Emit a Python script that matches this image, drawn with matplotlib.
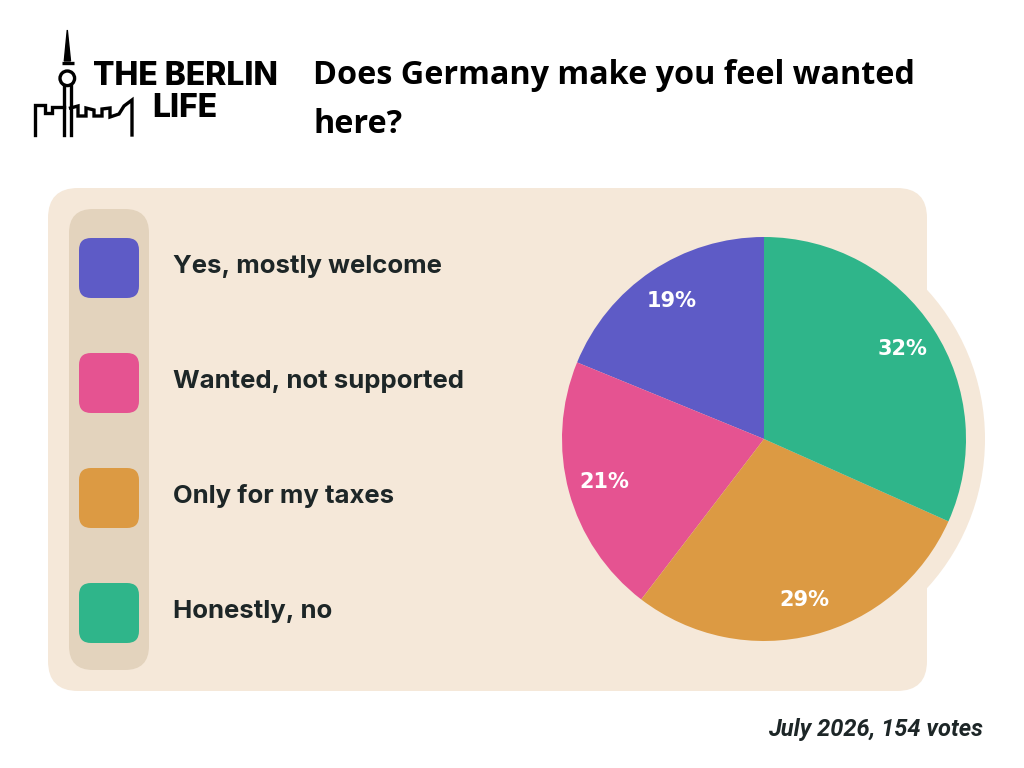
import matplotlib.pyplot as plt
from matplotlib.patches import FancyBboxPatch, Circle, Polygon

# ===== Data =====
answers = ["Yes, mostly welcome", "Wanted, not supported", "Only for my taxes", "Honestly, no"]
shares = [19, 21, 29, 32]
colors = ["#5e5bc6", "#e55391", "#dc9a43", "#2fb58a"]

title_lines = ["Does Germany make you feel wanted", "here?"]
footer = "July 2026, 154 votes"

PANEL = "#f5e8d9"
STRIP = "#e3d3bd"
INK = "#1d2627"

# ===== Figure =====
fig = plt.figure(figsize=(10.24, 7.68), dpi=100)
fig.patch.set_facecolor("white")

# overlay axes in pixel coordinates (y down)
bg = fig.add_axes([0, 0, 1, 1])
bg.set_xlim(0, 1024)
bg.set_ylim(768, 0)
bg.axis("off")

# panel + circle behind pie
bg.add_patch(FancyBboxPatch((48, 188), 879, 503, boxstyle="round,pad=0,rounding_size=30",
                            fc=PANEL, ec="none", zorder=1))
bg.add_patch(Circle((764, 439), 221, fc=PANEL, ec="none", zorder=1))
bg.add_patch(FancyBboxPatch((69, 209), 80, 461, boxstyle="round,pad=0,rounding_size=24",
                            fc=STRIP, ec="none", zorder=2))

# legend squares and labels
square_tops = [238, 353, 468, 583]
for top, lab, col in zip(square_tops, answers, colors):
    bg.add_patch(FancyBboxPatch((79, top), 60, 60, boxstyle="round,pad=0,rounding_size=12",
                                fc=col, ec="none", zorder=3))
    bg.text(173, top + 35, lab, fontsize=18.5, fontweight="bold", family="Inter",
            color=INK, va="baseline", ha="left", zorder=4)

# title + footer
for yb, line in zip([84, 133], title_lines):
    bg.text(313, yb, line, fontsize=23.3, fontweight="bold",
            family="Open Sans", color="black", va="baseline")
bg.text(983, 736, footer, fontsize=17, fontweight="bold", style="italic",
        family="Roboto", color=INK, va="baseline", ha="right")

# ===== Logo =====
lw = 2.4
bg.add_patch(Polygon([(67.3, 30), (64.3, 61), (70.5, 61)], closed=True, fc="black", ec="black", lw=1))
bg.plot([61.5, 73.5], [63, 63], color="black", lw=lw, solid_capstyle="butt")
bg.add_patch(Circle((67.3, 78.3), 7.3, fc="none", ec="black", lw=lw))
bg.plot([64.3, 64.3], [86, 135], color="black", lw=lw)
bg.plot([70.5, 70.5], [86, 135], color="black", lw=lw)
left_x = [35, 35, 45, 45, 52, 52, 64]
left_y = [135, 105, 105, 113, 113, 107, 107]
right_x = [70.5, 78, 78, 86, 86, 94, 94, 102, 102, 110, 110, 119, 124, 132, 132]
right_y = [108, 106, 116, 116, 108, 110, 116, 116, 109, 108, 117, 114, 106, 100, 135]
bg.plot(left_x, left_y, color="black", lw=lw, solid_joinstyle="miter")
bg.plot(right_x, right_y, color="black", lw=lw, solid_joinstyle="miter")
bg.text(93, 85, "THE BERLIN", fontsize=23, fontweight="heavy", family="Inter",
        color="black", va="baseline")
bg.text(152, 117, "LIFE", fontsize=23, fontweight="heavy", family="Inter",
        color="black", va="baseline")

# ===== Pie =====
cx, cy, r = 764, 439, 202
ax = fig.add_axes([(cx - r) / 1024, (768 - cy - r) / 768, 2 * r / 1024, 2 * r / 768])
wedges, texts, autotexts = ax.pie(shares, colors=colors, startangle=90, counterclock=True,
                                  autopct=lambda p: f"{p:.0f}%", pctdistance=0.82,
                                  wedgeprops=dict(linewidth=0),
                                  textprops=dict(color="white", fontsize=15, fontweight="bold"))
ax.set_xlim(-1, 1)
ax.set_ylim(-1, 1)
ax.axis("off")

fig.savefig("out.png", dpi=100, facecolor="white")
